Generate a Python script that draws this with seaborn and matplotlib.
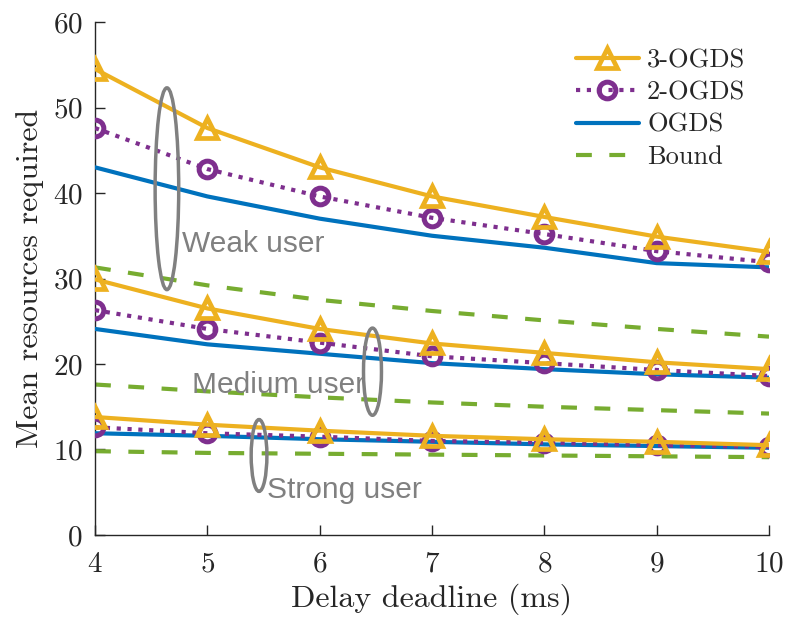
import numpy as np
import pandas as pd
import matplotlib
matplotlib.use("Agg")
import matplotlib.pyplot as plt
import seaborn as sns
from matplotlib.patches import Ellipse
from matplotlib.lines import Line2D

# ---- data ----
deadline = [4, 5, 6, 7, 8, 9, 10]
users = ["Weak", "Medium", "Strong"]
schemes = ["3-OGDS", "2-OGDS", "OGDS", "Bound"]

ogds3_weak = [54.5, 47.6, 43.0, 39.6, 37.2, 34.9, 33.1]
ogds2_weak = [47.6, 42.8, 39.6, 37.1, 35.2, 33.2, 31.9]
ogds_weak = [43.0, 39.6, 37.0, 35.0, 33.6, 31.8, 31.3]
bound_weak = [31.3, 29.2, 27.5, 26.2, 25.1, 24.1, 23.2]

ogds3_medium = [29.9, 26.5, 24.1, 22.4, 21.3, 20.2, 19.4]
ogds2_medium = [26.3, 24.1, 22.5, 20.9, 20.1, 19.3, 18.6]
ogds_medium = [24.1, 22.3, 21.2, 20.1, 19.4, 18.8, 18.4]
bound_medium = [17.6, 16.8, 16.1, 15.5, 15.0, 14.6, 14.2]

ogds3_strong = [13.8, 12.9, 12.2, 11.6, 11.2, 10.9, 10.5]
ogds2_strong = [12.6, 11.9, 11.5, 11.0, 10.8, 10.5, 10.3]
ogds_strong = [11.9, 11.6, 11.2, 10.9, 10.6, 10.4, 10.2]
bound_strong = [9.8, 9.6, 9.5, 9.4, 9.3, 9.2, 9.1]

values = {
    ("3-OGDS", "Weak"): ogds3_weak, ("2-OGDS", "Weak"): ogds2_weak,
    ("OGDS", "Weak"): ogds_weak, ("Bound", "Weak"): bound_weak,
    ("3-OGDS", "Medium"): ogds3_medium, ("2-OGDS", "Medium"): ogds2_medium,
    ("OGDS", "Medium"): ogds_medium, ("Bound", "Medium"): bound_medium,
    ("3-OGDS", "Strong"): ogds3_strong, ("2-OGDS", "Strong"): ogds2_strong,
    ("OGDS", "Strong"): ogds_strong, ("Bound", "Strong"): bound_strong,
}

rows = []
for (s, u), vals in values.items():
    for x, v in zip(deadline, vals):
        rows.append({"deadline": x, "resources": v, "scheme": s, "user": u})
df = pd.DataFrame(rows)

# ---- style ----
sns.set_style("ticks")
plt.rcParams["font.family"] = ["serif"]
plt.rcParams["font.serif"] = ["cmr10", "DejaVu Serif"]
plt.rcParams["axes.formatter.use_mathtext"] = True
plt.rcParams["mathtext.fontset"] = "cm"

colors = {"3-OGDS": "#EDB120", "2-OGDS": "#7E2F8E", "OGDS": "#0072BD", "Bound": "#77AC30"}
styles = {
    "3-OGDS": dict(linestyle="-", marker="^", markersize=14, markerfacecolor="none", markeredgewidth=3.4),
    "2-OGDS": dict(linestyle=(0, (1, 1.6)), marker="o", markersize=12, markerfacecolor="none", markeredgewidth=3.6),
    "OGDS": dict(linestyle="-", marker=""),
    "Bound": dict(linestyle=(0, (3.8, 4.2)), marker=""),
}
zorders = {"3-OGDS": 5, "2-OGDS": 4, "OGDS": 3, "Bound": 2}

fig = plt.figure(figsize=(7.88, 6.22), dpi=100)
ax = fig.add_axes([0.1206, 0.1399, 0.8553, 0.8247])

for u in users:
    for s in ["Bound", "OGDS", "2-OGDS", "3-OGDS"]:
        sub = df[(df.scheme == s) & (df.user == u)]
        sns.lineplot(data=sub, x="deadline", y="resources", ax=ax, color=colors[s],
                     linewidth=3, estimator=None, legend=False, zorder=zorders[s],
                     markeredgecolor=colors[s], **styles[s])

ax.set_xlim(4, 10)
ax.set_ylim(0, 60)
ax.set_xticks(deadline)
ax.set_yticks([0, 10, 20, 30, 40, 50, 60])
ax.set_xlabel("Delay deadline (ms)", fontsize=23, labelpad=4)
ax.set_ylabel("Mean resources required", fontsize=23, labelpad=6)
ax.tick_params(direction="in", length=7, width=1, labelsize=21, colors="#262626")
ax.tick_params(axis="x", pad=12)
ax.tick_params(axis="y", pad=9)
for sp in ["top", "right"]:
    ax.spines[sp].set_visible(False)
for sp in ["left", "bottom"]:
    ax.spines[sp].set_color("#262626")
    ax.spines[sp].set_linewidth(1)

# ellipses and annotations
ell_color = "#808080"
for (cx, cy, w, h) in [(4.64, 40.5, 0.21, 23.6), (6.47, 19.1, 0.16, 10.2), (5.46, 9.3, 0.14, 8.4)]:
    ax.add_patch(Ellipse((cx, cy), w, h, fill=False, edgecolor=ell_color, linewidth=2.5, zorder=6))
ann_font = dict(family=["Liberation Sans", "DejaVu Sans"], fontsize=21.5, color=ell_color)
ax.text(4.77, 34.0, "Weak user", va="center", ha="left", zorder=7, **ann_font)
ax.text(4.86, 17.6, "Medium user", va="center", ha="left", zorder=7, **ann_font)
ax.text(5.53, 5.3, "Strong user", va="center", ha="left", zorder=7, **ann_font)

handles = [Line2D([0], [0], color=colors[s], linewidth=3, markeredgecolor=colors[s], **styles[s]) for s in schemes]
leg = ax.legend(handles, schemes, loc="upper right", frameon=False, fontsize=19,
                handlelength=2.4, labelspacing=0.33, handletextpad=0.3,
                bbox_to_anchor=(1.0, 0.995))

fig.savefig("out.png", dpi=100)
